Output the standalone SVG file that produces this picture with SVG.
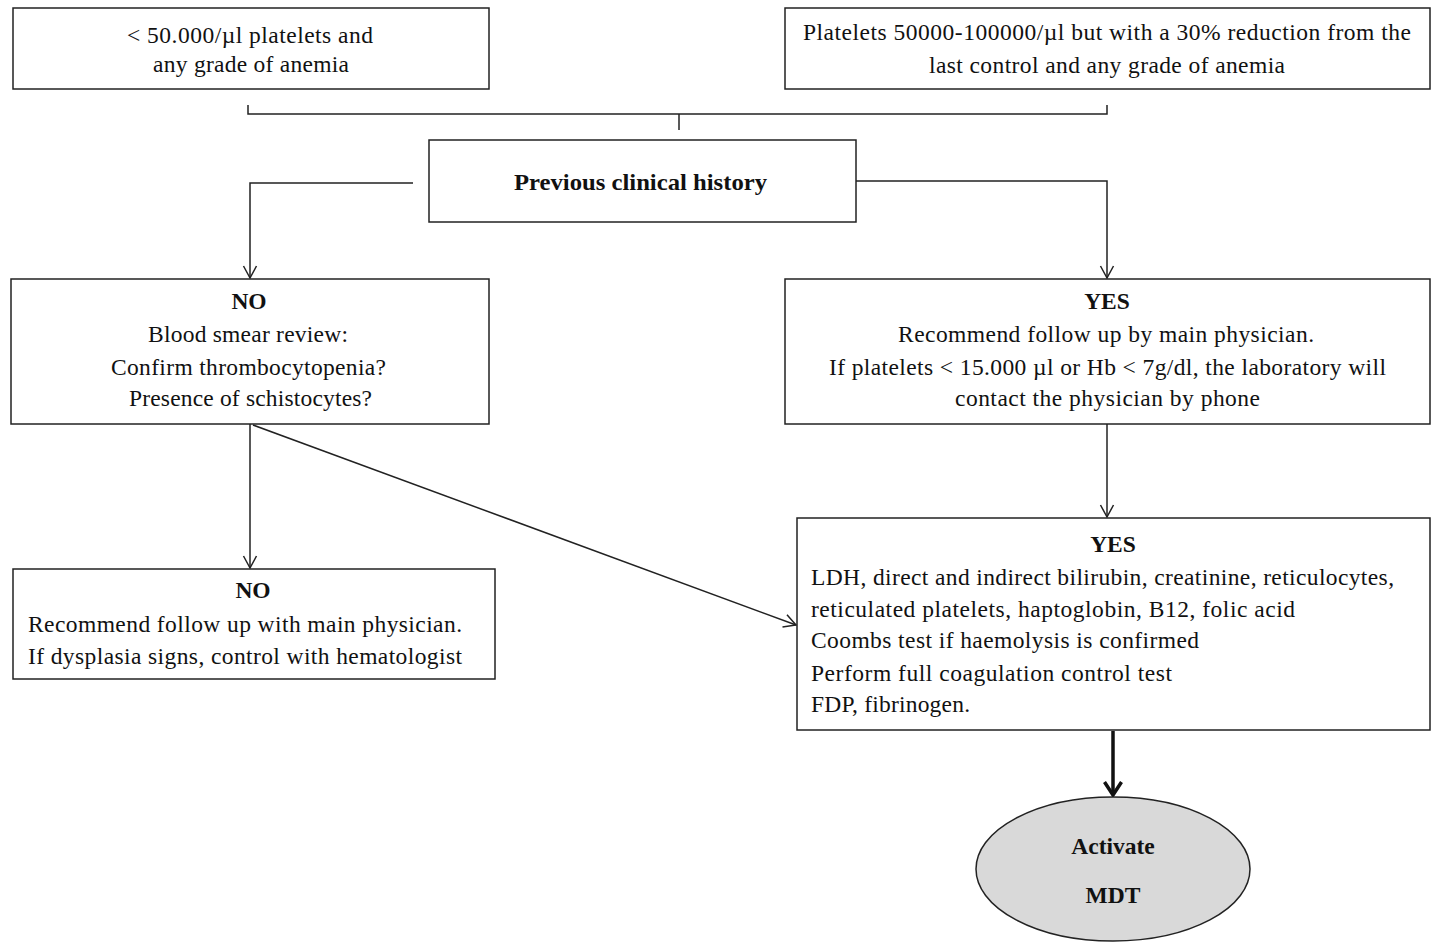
<svg xmlns="http://www.w3.org/2000/svg" width="1434" height="943" viewBox="0 0 1434 943">
<style>
.box{fill:#fff;stroke:#222;stroke-width:1.5}
.t{font-family:"Liberation Serif","Times New Roman",serif;font-size:23.5px;fill:#111}
.c{text-anchor:middle}
.b{font-weight:bold}
.ln{fill:none;stroke:#222;stroke-width:1.5}
</style>
<defs>
<marker id="a" markerWidth="16" markerHeight="16" refX="13" refY="8" orient="auto" markerUnits="userSpaceOnUse" viewBox="0 0 16 16">
<path d="M1,1.5 L13,8 L1,14.5" fill="none" stroke="#222" stroke-width="1.5"/>
</marker>
<marker id="a2" markerWidth="22" markerHeight="22" refX="17" refY="11" orient="auto" markerUnits="userSpaceOnUse" viewBox="0 0 22 22">
<path d="M4,2.5 L17,11 L4,19.5" fill="none" stroke="#111" stroke-width="3.5"/>
</marker>
</defs>
<rect width="1434" height="943" fill="#fff"/>
<g id="connectors">
<path class="ln" d="M248,105 V114 H1107 V105"/>
<path class="ln" d="M679,114 V130"/>
<path class="ln" d="M413,183 H250 V278" marker-end="url(#a)"/>
<path class="ln" d="M856,181 H1107 V278" marker-end="url(#a)"/>
<path class="ln" d="M250,424 V568" marker-end="url(#a)"/>
<path class="ln" d="M253,425 L796,625" marker-end="url(#a)"/>
<path class="ln" d="M1107,424 V517" marker-end="url(#a)"/>
<path d="M1113,731 V795" fill="none" stroke="#111" stroke-width="3.5" marker-end="url(#a2)"/>
</g>
<g id="n1">
<rect class="box" x="13" y="8" width="476" height="81"/>
<text class="t" x="127" y="43" textLength="246" lengthAdjust="spacing">&lt; 50.000/µl platelets  and</text>
<text class="t" x="153" y="72" textLength="196" lengthAdjust="spacing">any grade of anemia</text>
</g>
<g id="n2">
<rect class="box" x="785" y="8" width="645" height="81"/>
<text class="t" x="803" y="40" textLength="608" lengthAdjust="spacing">Platelets  50000-100000/µl but with  a 30% reduction  from  the</text>
<text class="t" x="929" y="73" textLength="356" lengthAdjust="spacing">last  control  and any grade  of anemia</text>
</g>
<g id="n3">
<rect class="box" x="429" y="140" width="427" height="82"/>
<text class="t b" x="514" y="190" textLength="253" lengthAdjust="spacingAndGlyphs">Previous  clinical  history</text>
</g>
<g id="n4">
<rect class="box" x="11" y="279" width="478" height="145"/>
<text class="t c b" x="249" y="309">NO</text>
<text class="t" x="148" y="342" textLength="200" lengthAdjust="spacing">Blood smear review:</text>
<text class="t" x="111" y="375" textLength="275" lengthAdjust="spacing">Confirm  thrombocytopenia?</text>
<text class="t" x="129" y="406" textLength="243" lengthAdjust="spacing">Presence  of schistocytes?</text>
</g>
<g id="n5">
<rect class="box" x="785" y="279" width="645" height="145"/>
<text class="t c b" x="1107" y="309">YES</text>
<text class="t" x="898" y="342" textLength="416" lengthAdjust="spacing">Recommend  follow  up by main  physician.</text>
<text class="t" x="829" y="375" textLength="557" lengthAdjust="spacing">If platelets  &lt; 15.000 µl or Hb &lt; 7g/dl, the laboratory  will</text>
<text class="t" x="955" y="406" textLength="305" lengthAdjust="spacing">contact  the physician  by phone</text>
</g>
<g id="n6">
<rect class="box" x="13" y="569" width="482" height="110"/>
<text class="t c b" x="253" y="598">NO</text>
<text class="t" x="28" y="632" textLength="434" lengthAdjust="spacing">Recommend  follow  up with  main  physician.</text>
<text class="t" x="28" y="664" textLength="434" lengthAdjust="spacing">If dysplasia  signs,  control  with  hematologist</text>
</g>
<g id="n7">
<rect class="box" x="797" y="518" width="633" height="212"/>
<text class="t c b" x="1113" y="552">YES</text>
<text class="t" x="811" y="585" textLength="583" lengthAdjust="spacing">LDH,  direct  and indirect  bilirubin,  creatinine,  reticulocytes,</text>
<text class="t" x="811" y="617" textLength="484" lengthAdjust="spacing">reticulated  platelets,  haptoglobin,  B12, folic  acid</text>
<text class="t" x="811" y="648" textLength="388" lengthAdjust="spacing">Coombs test if haemolysis  is confirmed</text>
<text class="t" x="811" y="681" textLength="361" lengthAdjust="spacing">Perform  full  coagulation  control  test</text>
<text class="t" x="811" y="712" textLength="159" lengthAdjust="spacing">FDP, fibrinogen.</text>
</g>
<g id="n8">
<ellipse cx="1113" cy="869" rx="137" ry="72" fill="#d9d9d9" stroke="#222" stroke-width="1.5"/>
<text class="t c b" x="1113" y="854">Activate</text>
<text class="t c b" x="1113" y="903">MDT</text>
</g>
</svg>
